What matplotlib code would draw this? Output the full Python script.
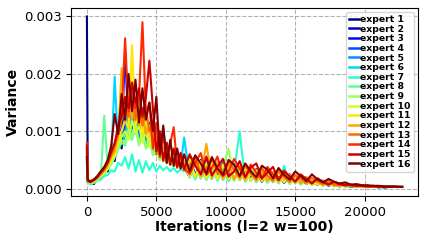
import numpy as np
import matplotlib
matplotlib.use("Agg")
import matplotlib.pyplot as plt

# iteration grid: finer around the peak, coarser in the tail
iters = [0, 60] + list(range(250, 7001, 250)) + list(range(7400, 22601, 400)) + [22700]

# variance per expert, in units of 1e-5
# (start, 60, 28 values up to 7000, 39 values in the tail, end)
expert_1 = ([300, 12] +
            [12, 8, 20, 18, 35, 30, 60, 48, 95, 70, 130, 90, 140, 95, 125, 85, 110, 75, 90, 60,
             70, 48, 60, 42, 52, 38, 48, 35] +
            [55, 22, 50, 20, 46, 18, 44, 17, 40, 16, 38, 15, 34, 13, 30, 12, 28, 11, 25, 10,
             22, 8, 18, 7, 14, 5, 10, 4, 8, 3, 6, 3, 5, 3, 4, 2, 3, 3, 3] + [3])
expert_2 = ([70, 12] +
            [9, 14, 15, 24, 28, 40, 45, 70, 75, 100, 150, 95, 130, 105, 120, 90, 115, 80, 95, 65,
             72, 50, 58, 44, 50, 40, 45, 37] +
            [20, 52, 18, 48, 17, 45, 16, 42, 15, 38, 14, 35, 13, 32, 12, 28, 11, 26, 10, 23,
             9, 20, 7, 16, 6, 12, 5, 9, 4, 7, 3, 6, 3, 5, 2, 4, 3, 3, 3] + [3])
expert_3 = ([60, 14] +
            [11, 9, 20, 22, 34, 36, 58, 55, 85, 90, 240, 100, 145, 98, 135, 92, 108, 78, 92, 60,
             68, 52, 55, 45, 48, 40, 44, 36] +
            [48, 25, 40, 22, 52, 19, 36, 20, 42, 15, 33, 18, 30, 12, 29, 14, 24, 10, 22, 11,
             19, 8, 16, 7, 12, 6, 9, 4, 7, 4, 5, 3, 5, 3, 3, 3, 3, 3, 3] + [3])
expert_4 = ([50, 12] +
            [10, 13, 17, 26, 27, 42, 44, 68, 72, 110, 95, 135, 105, 125, 90, 140, 85, 115, 70, 80,
             55, 62, 46, 52, 40, 46, 38, 42] +
            [24, 46, 21, 50, 19, 40, 17, 44, 16, 36, 15, 34, 13, 30, 12, 27, 11, 24, 10, 22,
             9, 18, 8, 15, 6, 11, 5, 9, 4, 6, 3, 5, 3, 4, 3, 3, 3, 3, 3] + [3])
expert_5 = ([55, 10] +
            [12, 11, 21, 23, 33, 34, 56, 60, 78, 100, 120, 110, 140, 100, 118, 95, 110, 80, 88, 66,
             72, 105, 50, 58, 44, 50, 40, 46] +
            [50, 20, 47, 23, 44, 18, 48, 16, 38, 17, 36, 14, 33, 13, 29, 12, 27, 10, 24, 10,
             21, 8, 17, 7, 13, 5, 10, 4, 8, 3, 6, 3, 5, 3, 4, 3, 3, 3, 3] + [3])
expert_6 = ([45, 12] +
            [10, 14, 16, 25, 30, 40, 48, 195, 70, 95, 85, 130, 90, 115, 80, 105, 75, 90, 62, 75,
             55, 62, 48, 55, 44, 50, 42, 89] +
            [22, 50, 19, 46, 18, 43, 16, 40, 15, 37, 14, 34, 13, 31, 12, 28, 11, 25, 10, 22,
             9, 19, 7, 15, 6, 12, 5, 9, 4, 7, 3, 6, 3, 4, 3, 3, 3, 3, 3] + [3])
expert_7 = ([40, 10] +
            [8, 10, 14, 16, 22, 24, 32, 30, 45, 40, 55, 35, 60, 30, 50, 28, 48, 32, 45, 30,
             40, 32, 38, 30, 36, 28, 34, 30] +
            [40, 16, 36, 15, 34, 14, 32, 13, 30, 100, 12, 27, 11, 25, 10, 23, 9, 40, 8, 19,
             7, 16, 6, 13, 5, 15, 4, 8, 3, 6, 3, 5, 3, 4, 2, 3, 3, 3, 3] + [3])
expert_8 = ([45, 11] +
            [9, 12, 17, 20, 127, 35, 45, 55, 68, 80, 75, 100, 85, 110, 78, 95, 70, 85, 60, 70,
             50, 58, 45, 50, 40, 45, 37, 41] +
            [20, 45, 18, 42, 17, 40, 15, 37, 14, 34, 13, 31, 12, 28, 11, 25, 10, 23, 9, 20,
             8, 17, 7, 14, 5, 11, 4, 8, 4, 6, 3, 5, 3, 4, 3, 3, 3, 3, 3] + [3])
expert_9 = ([50, 12] +
            [10, 11, 16, 22, 26, 34, 42, 55, 70, 85, 80, 105, 90, 115, 75, 100, 70, 88, 58, 66,
             50, 56, 44, 50, 40, 44, 36, 40] +
            [46, 19, 43, 17, 40, 16, 38, 70, 14, 34, 13, 31, 12, 28, 11, 25, 10, 22, 9, 20,
             8, 17, 6, 14, 5, 11, 4, 8, 3, 6, 3, 5, 3, 4, 3, 3, 3, 3, 3] + [3])
expert_10 = ([55, 13] +
             [11, 12, 19, 21, 30, 36, 48, 60, 78, 90, 100, 85, 120, 95, 110, 80, 100, 72, 85, 60,
              70, 52, 58, 45, 50, 40, 46, 38] +
             [21, 48, 19, 44, 18, 42, 16, 39, 15, 36, 14, 33, 13, 29, 12, 27, 11, 24, 10, 21,
              9, 18, 7, 15, 6, 12, 5, 9, 4, 7, 3, 5, 3, 4, 3, 3, 3, 3, 3] + [3])
expert_11 = ([60, 14] +
             [10, 14, 18, 26, 30, 40, 52, 62, 85, 100, 120, 105, 250, 110, 140, 95, 120, 85, 100, 68,
              75, 55, 60, 48, 52, 42, 48, 38] +
             [52, 20, 48, 18, 45, 17, 42, 16, 39, 15, 36, 14, 32, 13, 29, 12, 26, 11, 24, 10,
              21, 8, 17, 7, 13, 6, 10, 4, 8, 4, 6, 3, 5, 3, 4, 3, 3, 3, 3] + [3])
expert_12 = ([65, 15] +
             [12, 13, 20, 24, 33, 40, 56, 66, 90, 210, 115, 160, 120, 150, 110, 130, 95, 110, 80, 90,
              65, 72, 55, 60, 48, 54, 44, 48] +
             [24, 52, 21, 78, 19, 46, 17, 43, 16, 39, 15, 36, 14, 32, 13, 29, 12, 26, 11, 23,
              9, 20, 8, 16, 6, 12, 5, 9, 4, 7, 3, 6, 3, 5, 3, 4, 3, 3, 3] + [3])
expert_13 = ([70, 13] +
             [11, 15, 19, 27, 32, 45, 58, 75, 95, 120, 140, 125, 175, 120, 165, 110, 140, 100, 120, 60,
              95, 48, 80, 42, 68, 36, 58, 32] +
             [40, 58, 24, 35, 54, 28, 22, 47, 33, 19, 40, 26, 16, 36, 22, 14, 31, 20, 12, 24,
              17, 10, 19, 12, 8, 13, 7, 6, 8, 5, 5, 4, 4, 4, 3, 3, 3, 3, 3] + [3])
expert_14 = ([80, 15] +
             [13, 16, 21, 30, 35, 48, 62, 80, 100, 130, 262, 135, 175, 140, 160, 290, 130, 150, 70, 115,
              55, 95, 45, 78, 107, 40, 62, 35] +
             [26, 45, 62, 24, 36, 56, 22, 30, 52, 35, 20, 42, 28, 17, 38, 25, 15, 32, 20, 13,
              25, 16, 10, 18, 11, 8, 12, 7, 6, 6, 5, 5, 4, 4, 3, 4, 3, 3, 3] + [3])
expert_15 = ([75, 14] +
             [12, 15, 20, 28, 36, 46, 65, 78, 110, 125, 160, 140, 185, 150, 175, 125, 160, 223, 140, 65,
              100, 50, 80, 42, 70, 38, 62, 34] +
             [60, 40, 25, 56, 23, 38, 52, 21, 30, 48, 20, 37, 44, 18, 28, 38, 15, 30, 22, 12,
              24, 17, 9, 18, 12, 7, 12, 8, 6, 7, 5, 5, 4, 4, 4, 3, 3, 3, 3] + [3])
expert_16 = ([55, 16] +
             [12, 16, 22, 30, 38, 50, 75, 130, 95, 165, 120, 200, 135, 190, 115, 175, 120, 150, 100, 160,
              60, 110, 45, 85, 40, 70, 35, 60] +
             [30, 58, 44, 26, 55, 35, 24, 50, 42, 22, 44, 30, 20, 40, 33, 18, 36, 24, 16, 30,
              22, 13, 25, 16, 11, 17, 12, 9, 11, 7, 8, 6, 6, 5, 5, 4, 4, 4, 3] + [3])

experts = [expert_1, expert_2, expert_3, expert_4, expert_5, expert_6, expert_7, expert_8,
           expert_9, expert_10, expert_11, expert_12, expert_13, expert_14, expert_15, expert_16]

fig, ax = plt.subplots(figsize=(4.26, 2.4), dpi=100)
fig.subplots_adjust(left=0.167, right=0.981, top=0.967, bottom=0.183)

colors = plt.cm.jet(np.linspace(0, 1, len(experts)))
for i, vals in enumerate(experts):
    ax.plot(iters, np.array(vals) * 1e-5, color=colors[i], lw=1.5, label=f'expert {i + 1}')

ax.set_xlabel('Iterations (l=2 w=100)', fontsize=10, fontweight='bold', labelpad=1)
ax.set_ylabel('Variance', fontsize=10, fontweight='bold', labelpad=3)
ax.tick_params(labelsize=9.5)
ax.set_xticks([0, 5000, 10000, 15000, 20000])
ax.set_yticks([0, 0.001, 0.002, 0.003])
ax.grid(True, linestyle='--', color='gray', alpha=0.6)
leg = ax.legend(loc='upper right', prop={'size': 6.7, 'weight': 'bold'}, handlelength=1.0,
                handletextpad=0.2, labelspacing=0.07, borderpad=0.35, borderaxespad=0.4)
for h in leg.get_lines():
    h.set_linewidth(1.8)

fig.savefig('out.png', dpi=100)
